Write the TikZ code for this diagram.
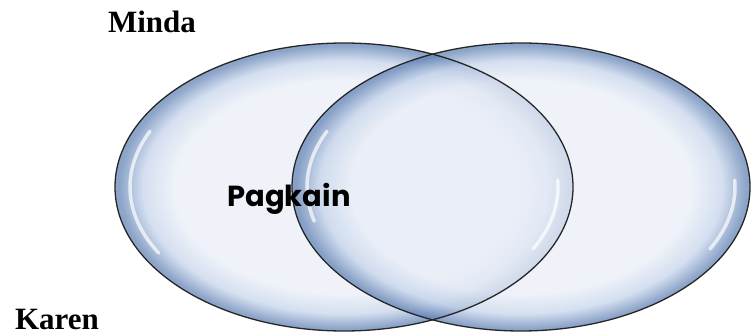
\documentclass[tikz,border=0pt]{standalone}
\usepackage{fontspec}
\setmainfont{Liberation Serif}
\newfontfamily\gothicfont{Poppins}
\usetikzlibrary{shapes.geometric}
\usetikzlibrary{positioning}
\usetikzlibrary{calc}

\definecolor{bubblein}{HTML}{E9EEF7}
\definecolor{bubblemid}{HTML}{C5D4EA}
\definecolor{bubbleedge}{HTML}{6585B6}
\pgfdeclareradialshading{bubbleshade}{\pgfpoint{0bp}{0bp}}{%
  color(0bp)=(bubblein); color(18.5bp)=(bubblein); color(22bp)=(bubblemid);
  color(24.6bp)=(bubbleedge); color(25bp)=(bubbleedge); color(50bp)=(bubbleedge)}

\tikzset{
  bubble/.style={ellipse, shading=bubbleshade, fill opacity=0.75, inner sep=0pt,
    minimum width=458pt, minimum height=288pt},
  rim/.style={draw=black!85, line width=1.3pt},
  gloss/.style={white, line width=3.5pt, opacity=0.7, line cap=round},
  setname/.style={font=\bfseries\fontsize{31}{36}\selectfont, inner sep=0pt},
  common/.style={font=\gothicfont\bfseries\fontsize{29}{33}\selectfont, inner sep=0pt}
}

\begin{document}
\begin{tikzpicture}[x=1pt,y=-1pt]
      \useasboundingbox (0,0) rectangle (751,336);

      \node[bubble] (left)  at (344,187) {};
      \node[bubble] (right) at (521,187) {};

      % shine on the rims
      \draw[gloss] ($(left.center)+(150:214 and 132)$) arc[start angle=150, end angle=205, x radius=214, y radius=132];
      \draw[gloss] ($(right.center)+(165:214 and 132)$) arc[start angle=165, end angle=205, x radius=214, y radius=132];
      \draw[gloss] ($(left.center)+(-3:214 and 132)$) arc[start angle=-3, end angle=28, x radius=214, y radius=132];
      \draw[gloss] ($(right.center)+(-3:214 and 132)$) arc[start angle=-3, end angle=28, x radius=214, y radius=132];

      % outlines on top of both fills
      \draw[rim] (left.center)  ellipse [x radius=229, y radius=144];
      \draw[rim] (right.center) ellipse [x radius=229, y radius=144];

      \node[setname] (minda) at (152,22) {Minda};
      \node[setname] (karen) at (57,320) {Karen};
      \node[common]  (pagkain) at (289,199) {Pagkain};
    \end{tikzpicture}
\end{document}
